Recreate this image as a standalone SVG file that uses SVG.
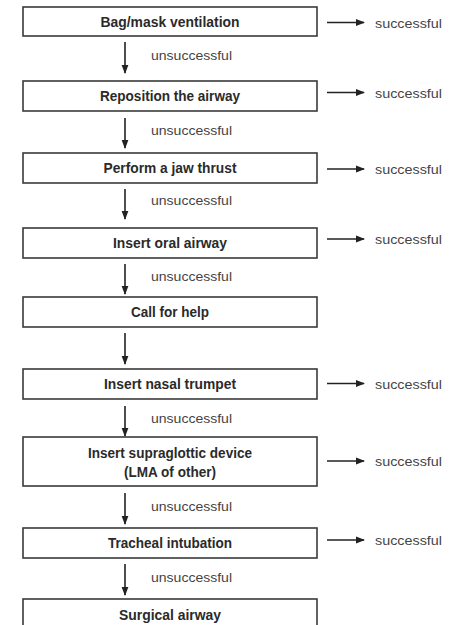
<svg xmlns="http://www.w3.org/2000/svg" width="454" height="625" viewBox="0 0 454 625">
<style>
.box{fill:#fff;stroke:#3a3a3a;stroke-width:1.6}
.t{font-family:"Liberation Sans Narrow","Liberation Sans",Arial,sans-serif;font-weight:bold;font-size:14px;fill:#2a2a2a;text-anchor:middle}
.l{font-family:"Liberation Sans Narrow","Liberation Sans",Arial,sans-serif;font-size:13.5px;fill:#444}
.c{stroke:#222;stroke-width:1.6;fill:none}
</style>
<defs>
<marker id="ah" markerWidth="9" markerHeight="8" refX="8" refY="4" orient="auto" markerUnits="userSpaceOnUse">
<path d="M0,0.6 L9,4 L0,7.4 Z" fill="#222"/>
</marker>
</defs>
<rect width="454" height="625" fill="#fff"/>
<g id="n1"><rect class="box" x="23" y="7" width="294" height="29"/><text class="t" x="170" y="27" textLength="139" lengthAdjust="spacingAndGlyphs">Bag/mask ventilation</text></g>
<g id="n2"><rect class="box" x="23" y="81" width="294" height="30"/><text class="t" x="170" y="101" textLength="140" lengthAdjust="spacingAndGlyphs">Reposition the airway</text></g>
<g id="n3"><rect class="box" x="23" y="153" width="294" height="30"/><text class="t" x="170" y="173" textLength="133" lengthAdjust="spacingAndGlyphs">Perform a jaw thrust</text></g>
<g id="n4"><rect class="box" x="23" y="228" width="294" height="30"/><text class="t" x="170" y="248" textLength="114" lengthAdjust="spacingAndGlyphs">Insert oral airway</text></g>
<g id="n5"><rect class="box" x="23" y="297" width="294" height="30"/><text class="t" x="170" y="317" textLength="78" lengthAdjust="spacingAndGlyphs">Call for help</text></g>
<g id="n6"><rect class="box" x="23" y="369" width="294" height="30"/><text class="t" x="170" y="389" textLength="132" lengthAdjust="spacingAndGlyphs">Insert nasal trumpet</text></g>
<g id="n7"><rect class="box" x="23" y="437" width="294" height="49"/><text class="t" x="170" y="458" textLength="164" lengthAdjust="spacingAndGlyphs">Insert supraglottic device</text><text class="t" x="170" y="477" textLength="92" lengthAdjust="spacingAndGlyphs">(LMA of other)</text></g>
<g id="n8"><rect class="box" x="23" y="528" width="294" height="30"/><text class="t" x="170" y="548" textLength="124" lengthAdjust="spacingAndGlyphs">Tracheal intubation</text></g>
<g id="n9"><rect class="box" x="23" y="599" width="294" height="40"/><text class="t" x="170" y="620" textLength="102" lengthAdjust="spacingAndGlyphs">Surgical airway</text></g>
<g id="connectors">
<line class="c" x1="125" y1="42" x2="125" y2="73" marker-end="url(#ah)"/>
<line class="c" x1="125" y1="118" x2="125" y2="148" marker-end="url(#ah)"/>
<line class="c" x1="125" y1="189" x2="125" y2="219" marker-end="url(#ah)"/>
<line class="c" x1="125" y1="264" x2="125" y2="294" marker-end="url(#ah)"/>
<line class="c" x1="125" y1="333" x2="125" y2="364" marker-end="url(#ah)"/>
<line class="c" x1="125" y1="406" x2="125" y2="436" marker-end="url(#ah)"/>
<line class="c" x1="125" y1="493" x2="125" y2="524" marker-end="url(#ah)"/>
<line class="c" x1="125" y1="564" x2="125" y2="595" marker-end="url(#ah)"/>
<line class="c" x1="327" y1="22.5" x2="364" y2="22.5" marker-end="url(#ah)"/>
<line class="c" x1="327" y1="92.5" x2="364" y2="92.5" marker-end="url(#ah)"/>
<line class="c" x1="327" y1="169" x2="364" y2="169" marker-end="url(#ah)"/>
<line class="c" x1="327" y1="239" x2="364" y2="239" marker-end="url(#ah)"/>
<line class="c" x1="327" y1="383.5" x2="364" y2="383.5" marker-end="url(#ah)"/>
<line class="c" x1="327" y1="461" x2="364" y2="461" marker-end="url(#ah)"/>
<line class="c" x1="327" y1="540" x2="364" y2="540" marker-end="url(#ah)"/>
<text class="l" x="151" y="59.5" textLength="81" lengthAdjust="spacingAndGlyphs">unsuccessful</text>
<text class="l" x="151" y="134.5" textLength="81" lengthAdjust="spacingAndGlyphs">unsuccessful</text>
<text class="l" x="151" y="204.5" textLength="81" lengthAdjust="spacingAndGlyphs">unsuccessful</text>
<text class="l" x="151" y="280.5" textLength="81" lengthAdjust="spacingAndGlyphs">unsuccessful</text>
<text class="l" x="151" y="422.5" textLength="81" lengthAdjust="spacingAndGlyphs">unsuccessful</text>
<text class="l" x="151" y="510.5" textLength="81" lengthAdjust="spacingAndGlyphs">unsuccessful</text>
<text class="l" x="151" y="581.5" textLength="81" lengthAdjust="spacingAndGlyphs">unsuccessful</text>
<text class="l" x="375" y="27.5" textLength="67" lengthAdjust="spacingAndGlyphs">successful</text>
<text class="l" x="375" y="97.5" textLength="67" lengthAdjust="spacingAndGlyphs">successful</text>
<text class="l" x="375" y="174" textLength="67" lengthAdjust="spacingAndGlyphs">successful</text>
<text class="l" x="375" y="244" textLength="67" lengthAdjust="spacingAndGlyphs">successful</text>
<text class="l" x="375" y="388.5" textLength="67" lengthAdjust="spacingAndGlyphs">successful</text>
<text class="l" x="375" y="466" textLength="67" lengthAdjust="spacingAndGlyphs">successful</text>
<text class="l" x="375" y="545" textLength="67" lengthAdjust="spacingAndGlyphs">successful</text>
</g>
</svg>
